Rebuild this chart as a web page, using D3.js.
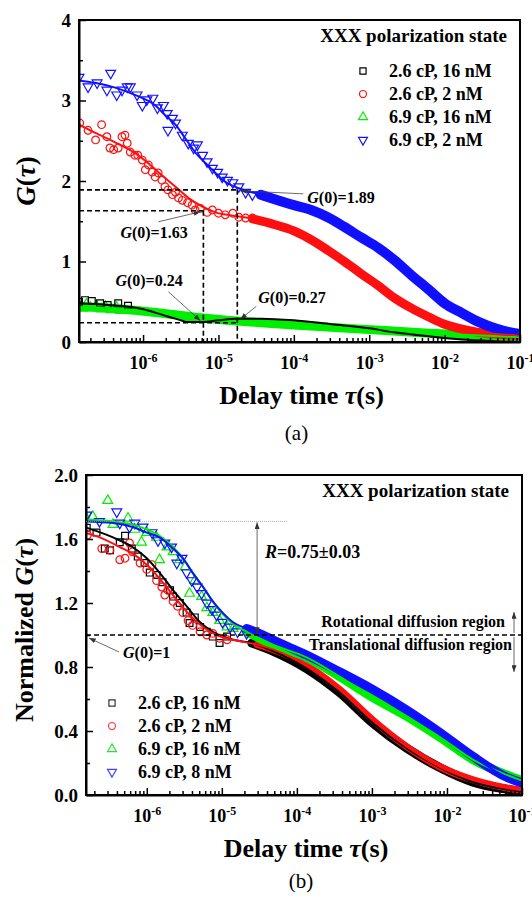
<!DOCTYPE html>
<html>
<head>
<meta charset="utf-8">
<script src="https://cdn.jsdelivr.net/npm/d3@7"></script>
<style>
body { margin: 0; background: #fff; }
svg { display: block; font-family: "Liberation Serif", "Times New Roman", serif; font-weight: bold; }
</style>
</head>
<body>
<div id="chart"></div>
<script>
// all curves: [log10(tau / s), G]
// ---------- panel (a)
var aBlackFit = [[-6.85,0.48],[-6.47,0.46],[-6.01,0.41],[-5.75,0.34],[-5.57,0.29],[-5.40,0.25],[-5.21,0.25],[-5.00,0.27],[-4.77,0.29],[-4.44,0.29],[-4.00,0.27],[-3.50,0.22],[-3.00,0.17],[-2.67,0.12],[-2.21,0.07],[-1.77,0.03],[-1.33,0.01],[-1.00,0.00]];
var aBlackPts = [[-6.85,0.50],[-6.77,0.52],[-6.68,0.51],[-6.57,0.48],[-6.47,0.46],[-6.33,0.48],[-6.20,0.45]];
var aRedFit = [[-6.85,2.70],[-6.64,2.60],[-6.37,2.48],[-6.11,2.35],[-5.93,2.22],[-5.75,2.07],[-5.57,1.93],[-5.40,1.79],[-5.21,1.68],[-5.04,1.61],[-4.81,1.57],[-4.55,1.53],[-4.30,1.47],[-4.00,1.38],[-3.77,1.27],[-3.55,1.14],[-3.33,1.00],[-3.11,0.85],[-2.88,0.70],[-2.67,0.55],[-2.44,0.42],[-2.21,0.31],[-2.00,0.22],[-1.77,0.16],[-1.55,0.12],[-1.33,0.10],[-1.00,0.08]];
var aRedPts = [[-6.84,2.72],[-6.73,2.63],[-6.63,2.51],[-6.55,2.70],[-6.48,2.55],[-6.44,2.41],[-6.39,2.39],[-6.33,2.41],[-6.28,2.55],[-6.24,2.57],[-6.21,2.47],[-6.17,2.36],[-6.11,2.32],[-6.07,2.32],[-6.01,2.26],[-5.97,2.14],[-5.93,2.20],[-5.88,2.11],[-5.84,2.05],[-5.80,2.10],[-5.75,2.01],[-5.71,1.93],[-5.67,1.89],[-5.61,1.83],[-5.57,1.86],[-5.53,1.79],[-5.48,1.76],[-5.41,1.73],[-5.35,1.70],[-5.31,1.64],[-5.24,1.66],[-5.15,1.61],[-5.08,1.64],[-5.00,1.60],[-4.91,1.58],[-4.81,1.60],[-4.73,1.55],[-4.64,1.54],[-4.55,1.54]];
var aGreenFit = [[-6.85,0.44],[-6.31,0.41],[-5.77,0.36],[-5.24,0.30],[-4.75,0.26],[-4.44,0.24],[-4.00,0.21],[-3.11,0.16],[-2.21,0.11],[-1.00,0.06]];
var aGreenPts = [[-6.85,0.46],[-6.80,0.42],[-6.75,0.47],[-6.70,0.43],[-6.62,0.45],[-6.55,0.41],[-6.50,0.44],[-6.42,0.40],[-6.35,0.43],[-6.30,0.39]];
var aBlueFit = [[-6.85,3.25],[-6.64,3.22],[-6.37,3.16],[-6.11,3.07],[-5.84,2.94],[-5.71,2.82],[-5.57,2.70],[-5.44,2.53],[-5.31,2.36],[-5.17,2.22],[-5.04,2.10],[-4.91,1.99],[-4.73,1.91],[-4.44,1.83],[-4.00,1.70],[-3.77,1.64],[-3.55,1.55],[-3.33,1.43],[-3.11,1.30],[-2.88,1.17],[-2.67,1.02],[-2.44,0.83],[-2.21,0.65],[-2.00,0.48],[-1.77,0.36],[-1.55,0.25],[-1.33,0.17],[-1.07,0.11],[-1.00,0.10]];
var aBluePts = [[-6.85,3.29],[-6.73,3.17],[-6.61,3.22],[-6.48,3.13],[-6.43,3.34],[-6.35,3.07],[-6.28,3.13],[-6.21,3.17],[-6.17,3.17],[-6.08,3.07],[-6.01,2.94],[-5.95,3.01],[-5.87,3.03],[-5.81,2.91],[-5.73,2.94],[-5.68,2.84],[-5.67,2.63],[-5.61,2.78],[-5.57,2.72],[-5.48,2.57],[-5.40,2.47],[-5.33,2.41],[-5.28,2.45],[-5.21,2.32],[-5.15,2.24],[-5.08,2.16],[-5.01,2.11],[-4.95,2.05],[-4.88,2.01],[-4.81,1.98],[-4.73,1.93],[-4.64,1.86],[-4.55,1.83]];
var aG0 = [1.63, 1.89, 0.24, 0.27];         // marked G(0) values
var aG0Tau = [-5.2, -4.75];                   // log10 tau of the two dashed verticals

// ---------- panel (b)
var bBlackFit = [[-6.83,1.675],[-6.45,1.61],[-6.19,1.55],[-6.00,1.48],[-5.83,1.39],[-5.65,1.28],[-5.47,1.18],[-5.29,1.08],[-5.12,1.02],[-4.85,0.97],[-4.60,0.95],[-4.32,0.90],[-3.87,0.79],[-3.43,0.64],[-2.99,0.45],[-2.53,0.29],[-2.09,0.17],[-1.65,0.08],[-1.20,0.035],[-1.00,0.02]];
var bBlackPts = [[-6.80,1.67],[-6.67,1.64],[-6.56,1.54],[-6.49,1.53],[-6.36,1.58],[-6.29,1.62],[-6.20,1.54],[-6.12,1.49],[-6.03,1.45],[-5.96,1.39],[-5.87,1.375],[-5.79,1.33],[-5.69,1.28],[-5.65,1.24],[-5.56,1.20],[-5.47,1.14],[-5.43,1.075],[-5.36,1.11],[-5.29,1.05],[-5.20,1.02],[-5.12,0.99],[-5.03,0.95],[-4.93,0.99]];
var bRedFit = [[-6.83,1.64],[-6.63,1.61],[-6.36,1.55],[-6.13,1.49],[-5.96,1.42],[-5.79,1.33],[-5.60,1.22],[-5.43,1.125],[-5.25,1.05],[-5.07,1.00],[-4.85,0.97],[-4.53,0.94],[-4.32,0.91],[-3.87,0.81],[-3.43,0.66],[-2.99,0.47],[-2.53,0.30],[-2.09,0.175],[-1.65,0.094],[-1.20,0.044],[-1.00,0.03]];
var bRedPts = [[-6.79,1.625],[-6.60,1.54],[-6.49,1.53],[-6.36,1.47],[-6.29,1.48],[-6.23,1.575],[-6.19,1.52],[-6.09,1.45],[-6.00,1.41],[-5.93,1.44],[-5.87,1.34],[-5.80,1.30],[-5.76,1.25],[-5.72,1.28],[-5.65,1.21],[-5.59,1.18],[-5.52,1.14],[-5.45,1.09],[-5.39,1.06],[-5.29,1.02],[-5.20,1.00],[-5.12,1.01],[-5.03,0.98],[-4.93,0.97]];
var bGreenFit = [[-6.83,1.72],[-6.45,1.71],[-6.19,1.69],[-6.00,1.66],[-5.83,1.62],[-5.65,1.55],[-5.52,1.48],[-5.39,1.39],[-5.25,1.30],[-5.12,1.21],[-4.99,1.13],[-4.85,1.07],[-4.67,1.02],[-4.32,0.94],[-3.87,0.86],[-3.43,0.74],[-2.99,0.61],[-2.53,0.49],[-2.09,0.36],[-1.65,0.22],[-1.20,0.125],[-1.00,0.09]];
var bGreenPts = [[-6.83,1.75],[-6.72,1.74],[-6.52,1.84],[-6.45,1.69],[-6.25,1.73],[-6.16,1.66],[-6.07,1.58],[-6.00,1.64],[-5.87,1.61],[-5.83,1.47],[-5.73,1.55],[-5.65,1.52],[-5.56,1.47],[-5.49,1.425],[-5.43,1.26],[-5.36,1.34],[-5.27,1.24],[-5.20,1.17],[-5.12,1.14],[-5.03,1.09],[-4.93,1.05],[-4.85,1.04]];
var bBlueFit = [[-6.83,1.71],[-6.45,1.70],[-6.19,1.675],[-6.00,1.64],[-5.83,1.61],[-5.65,1.54],[-5.52,1.48],[-5.39,1.39],[-5.25,1.30],[-5.12,1.21],[-4.99,1.14],[-4.85,1.08],[-4.67,1.04],[-4.45,1.00],[-4.32,0.97],[-3.87,0.875],[-3.43,0.77],[-2.99,0.66],[-2.53,0.53],[-2.09,0.39],[-1.65,0.24],[-1.20,0.11],[-1.00,0.075]];
var bBluePts = [[-6.80,1.75],[-6.63,1.71],[-6.40,1.77],[-6.36,1.70],[-6.23,1.675],[-6.16,1.70],[-6.05,1.675],[-5.93,1.64],[-5.85,1.59],[-5.76,1.575],[-5.67,1.55],[-5.60,1.45],[-5.53,1.48],[-5.47,1.39],[-5.40,1.34],[-5.33,1.30],[-5.27,1.26],[-5.20,1.20],[-5.13,1.16],[-5.07,1.125],[-4.99,1.08],[-4.89,1.05],[-4.79,1.02],[-4.67,1.01]];
var bPlateau = 1.71, bLevel = 1.0, bArrowTau = -4.53, bPlateauEnd = -4.13;

var legendA = ["2.6 cP, 16 nM", "2.6 cP, 2 nM", "6.9 cP, 16 nM", "6.9 cP, 2 nM"];
var legendB = ["2.6 cP, 16 nM", "2.6 cP, 2 nM", "6.9 cP, 16 nM", "6.9 cP, 8 nM"];
var colors = ["#000000", "#ff1010", "#00ee00", "#1010ff"];
var legendColors = ["#333333", "#ff4040", "#30dd30", "#4040ff"];
var xTickExp = [-6, -5, -4, -3, -2, -1];
var aYTicks = [0, 1, 2, 3, 4], aYMinor = [0.5, 1.5, 2.5, 3.5];
var bYTicks = [0, 0.4, 0.8, 1.2, 1.6, 2.0], bYMinor = [0.2, 0.6, 1.0, 1.4, 1.8];

var svg = d3.select("#chart").append("svg").attr("width", 532).attr("height", 900);
var defs = svg.append("defs");
defs.append("marker").attr("id", "arr").attr("viewBox", "0 0 8 6")
  .attr("refX", 8).attr("refY", 3).attr("markerWidth", 7).attr("markerHeight", 5)
  .attr("markerUnits", "userSpaceOnUse").attr("orient", "auto-start-reverse")
  .append("path").attr("d", "M0,0L8,3L0,6z").attr("fill", "#333");

function symbolPath(i, size) {
  var types = [d3.symbolSquare, d3.symbolCircle, d3.symbolTriangle, d3.symbolTriangle];
  return d3.symbol().type(types[i]).size(size)();
}

function addText(sel, x, y, parts, size, anchor) {
  var t = sel.append("text").attr("x", x).attr("y", y).attr("font-size", size)
    .attr("text-anchor", anchor || "start");
  parts.forEach(function (p) {
    t.append("tspan").attr("font-style", p[1] ? "italic" : "normal").text(p[0]);
  });
  return t;
}

function drawPanel(p) {
  var x = d3.scaleLog().domain(p.xDomain).range([p.left, p.right]);
  var y = d3.scaleLinear().domain(p.yDomain).range([p.bottom, p.top]);
  var g = svg.append("g");

  defs.append("clipPath").attr("id", "clip" + p.id).append("rect")
    .attr("x", p.left).attr("y", p.top).attr("width", p.right - p.left).attr("height", p.bottom - p.top);
  var plot = g.append("g").attr("clip-path", "url(#clip" + p.id + ")");

  var line = d3.line().x(function (d) { return x(Math.pow(10, d[0])); })
    .y(function (d) { return y(d[1]); }).curve(d3.curveMonotoneX);

  // bands + markers, then fit lines
  p.order.forEach(function (i) {
    var s = p.series[i];
    if (s.bandFrom != null) {
      plot.append("path").datum(s.fit.filter(function (d) { return d[0] >= s.bandFrom; }))
        .attr("d", line).attr("fill", "none").attr("stroke", colors[i])
        .attr("stroke-width", s.bandWidth).attr("stroke-linecap", "round");
    }
    plot.selectAll(null).data(s.pts).enter().append("path")
      .attr("d", symbolPath(i, i >= 2 ? 42 : 46))
      .attr("transform", function (d) {
        return "translate(" + x(Math.pow(10, d[0])) + "," + y(d[1]) + ")" + (i === 3 ? " rotate(180)" : "");
      })
      .attr("fill", "none").attr("stroke", colors[i]).attr("stroke-width", 1.2);
  });
  p.order.forEach(function (i) {
    plot.append("path").datum(p.series[i].fit).attr("d", line)
      .attr("fill", "none").attr("stroke", colors[i]).attr("stroke-width", 2);
  });

  // axes, ticks inward
  var minors = [];
  for (var e = -7; e <= -2; e++) for (var k = 2; k <= 9; k++) {
    var v = k * Math.pow(10, e);
    if (v > p.xDomain[0] && v < p.xDomain[1]) minors.push(v);
  }
  var xg = g.append("g").attr("transform", "translate(0," + p.bottom + ")")
    .call(d3.axisBottom(x).tickValues(xTickExp.map(function (e) { return Math.pow(10, e); }))
      .tickSizeInner(-7).tickSizeOuter(0).tickPadding(14));
  g.append("g").attr("transform", "translate(0," + p.bottom + ")")
    .call(d3.axisBottom(x).tickValues(minors).tickSizeInner(-4).tickSizeOuter(0).tickFormat(""))
    .select(".domain").remove();
  xg.selectAll(".tick text").each(function (d) {
    var t = d3.select(this).text("");
    t.append("tspan").text("10");
    t.append("tspan").attr("dy", "-0.6em").attr("font-size", "12px").text(Math.round(Math.log10(d)));
  });

  var yg = g.append("g").attr("transform", "translate(" + p.left + ",0)")
    .call(d3.axisLeft(y).tickValues(p.yTicks).tickSizeInner(-7).tickSizeOuter(0)
      .tickPadding(8).tickFormat(d3.format(p.yFormat)));
  g.append("g").attr("transform", "translate(" + p.left + ",0)")
    .call(d3.axisLeft(y).tickValues(p.yMinor).tickSizeInner(-4).tickSizeOuter(0).tickFormat(""))
    .select(".domain").remove();

  g.selectAll(".tick line").attr("stroke", "#000").attr("stroke-width", 1.5);
  g.selectAll(".domain").attr("stroke", "#000").attr("stroke-width", 2);
  xg.attr("font-family", null).attr("font-size", 18);
  yg.attr("font-family", null).attr("font-size", p.yFont);
  g.selectAll(".tick text").attr("fill", "#000");

  g.append("rect").attr("x", p.left).attr("y", p.top)
    .attr("width", p.right - p.left).attr("height", p.bottom - p.top)
    .attr("fill", "none").attr("stroke", "#000").attr("stroke-width", 2);

  // axis titles
  addText(g, (p.left + p.right) / 2 + 2, p.bottom + p.titleDy, [["Delay time ", false], ["τ", true], ["(s)", false]], 26, "middle");
  addText(g, 0, 0, p.yTitle, p.yTitleSize, "middle")
    .attr("transform", "translate(" + (p.left - p.yTitleDx) + "," + p.yTitleY + ") rotate(-90)");
  addText(g, (p.left + p.right) / 2 - 3, p.bottom + p.tagDy, [[p.tag, false]], 21, "middle").attr("font-weight", "normal");

  // legend
  addText(g, p.right - 13, p.top + 22, [["XXX polarization state", false]], 19, "end");
  p.legend.forEach(function (name, i) {
    var cy = p.legY + i * 23;
    g.append("path").attr("d", symbolPath(i, i >= 2 ? 34 : 38))
      .attr("transform", "translate(" + p.legX + "," + cy + ")" + (i === 3 ? " rotate(180)" : ""))
      .attr("fill", "none").attr("stroke", p.legendColors[i]).attr("stroke-width", 1.2);
    addText(g, p.legX + 26, cy + 6, [[name, false]], 18, "start");
  });
  return { x: x, y: y, g: g };
}

// ---------- panel (a)
var A = drawPanel({
  id: "a", left: 79, right: 520, top: 20, bottom: 342,
  xDomain: [Math.pow(10, -6.85), 0.1], yDomain: [0, 4],
  yTicks: aYTicks, yMinor: aYMinor, yFormat: "d", yFont: 19,
  yTitle: [["G", true], ["(", false], ["τ", true], [")", false]], yTitleSize: 27, yTitleDx: 44, yTitleY: 181,
  tag: "(a)", titleDy: 62, tagDy: 98,
  legend: legendA, legendColors: colors, legX: 363, legY: 71,
  order: [2, 0, 1, 3],
  series: [
    { fit: aBlackFit, pts: aBlackPts, bandFrom: null },
    { fit: aRedFit, pts: aRedPts, bandFrom: -4.8, bandWidth: 9 },
    { fit: aGreenFit, pts: aGreenPts, bandFrom: -6.85, bandWidth: 9 },
    { fit: aBlueFit, pts: aBluePts, bandFrom: -4.6, bandWidth: 10 }
  ]
});

(function () {
  var x = A.x, y = A.y, g = A.g, x0 = 79;
  var t1 = x(Math.pow(10, aG0Tau[0])), t2 = x(Math.pow(10, aG0Tau[1]));
  var dash = function (x1, y1, x2, y2) {
    g.append("line").attr("x1", x1).attr("y1", y1).attr("x2", x2).attr("y2", y2)
      .attr("stroke", "#000").attr("stroke-width", 1.6).attr("stroke-dasharray", "5,3");
  };
  dash(x0, y(aG0[1]), t2, y(aG0[1]));
  dash(x0, y(aG0[0]), t1, y(aG0[0]));
  dash(x0, y(aG0[2]), t2, y(aG0[2]));
  dash(t1, y(aG0[0]), t1, y(0));
  dash(t2, y(aG0[1]), t2, y(0));
  var arrow = function (x1, y1, x2, y2) {
    g.append("line").attr("x1", x1).attr("y1", y1).attr("x2", x2).attr("y2", y2)
      .attr("stroke", "#444").attr("stroke-width", 0.8).attr("marker-end", "url(#arr)");
  };
  var lab = function (xx, yy, v) { addText(g, xx, yy, [["G", true], ["(0)=" + v, false]], 16, "start"); };
  lab(t1 - 83, y(aG0[0]) + 27, aG0[0]);
  arrow(t1 - 45, y(aG0[0]) + 11, t1 - 3, y(aG0[0]) + 1);
  lab(t2 + 70, y(aG0[1]) + 13, aG0[1]);
  arrow(t2 + 66, y(aG0[1]) + 4, t2 + 3, y(aG0[1]) + 1);
  lab(t1 - 88, y(aG0[2]) - 37, aG0[2]);
  arrow(t1 - 35, y(aG0[2]) - 31, t1 - 3, y(aG0[2]) - 2);
  lab(t2 + 21, y(aG0[3]) - 17, aG0[3]);
  arrow(t2 + 19, y(aG0[3]) - 14, t2 + 3, y(aG0[3]) - 1);
})();

// ---------- panel (b)
var B = drawPanel({
  id: "b", left: 86, right: 522, top: 475, bottom: 795,
  xDomain: [Math.pow(10, -6.81), 0.1], yDomain: [0, 2],
  yTicks: bYTicks, yMinor: bYMinor, yFormat: ".1f", yFont: 19,
  yTitle: [["Normalized ", false], ["G", true], ["(", false], ["τ", true], [")", false]], yTitleSize: 26, yTitleDx: 53, yTitleY: 630,
  tag: "(b)", titleDy: 62, tagDy: 93,
  legend: legendB, legendColors: legendColors, legX: 112, legY: 703,
  order: [0, 1, 2, 3],
  series: [
    { fit: bBlackFit, pts: bBlackPts, bandFrom: -4.75, bandWidth: 9 },
    { fit: bRedFit, pts: bRedPts, bandFrom: -4.75, bandWidth: 7 },
    { fit: bGreenFit, pts: bGreenPts, bandFrom: -4.75, bandWidth: 9 },
    { fit: bBlueFit, pts: bBluePts, bandFrom: -4.75, bandWidth: 9 }
  ]
});

(function () {
  var x = B.x, y = B.y, g = B.g, x0 = 86, x1 = 522;
  g.append("line").attr("x1", x0).attr("x2", x(Math.pow(10, bPlateauEnd)))
    .attr("y1", y(bPlateau)).attr("y2", y(bPlateau))
    .attr("stroke", "#999").attr("stroke-width", 0.8).attr("stroke-dasharray", "1,1");
  g.append("line").attr("x1", x0).attr("x2", x1).attr("y1", y(bLevel)).attr("y2", y(bLevel))
    .attr("stroke", "#000").attr("stroke-width", 1.6).attr("stroke-dasharray", "5,3");
  var ax = x(Math.pow(10, bArrowTau));
  g.append("line").attr("x1", ax).attr("x2", ax).attr("y1", y(bPlateau) + 1).attr("y2", y(bLevel) - 1)
    .attr("stroke", "#444").attr("stroke-width", 0.8)
    .attr("marker-start", "url(#arr)").attr("marker-end", "url(#arr)");
  addText(g, ax + 8, y(bPlateau) + 37, [["R", true], ["=0.75±0.03", false]], 18, "start");
  addText(g, x1 - 17, y(bLevel) - 8, [["Rotational diffusion region", false]], 16, "end");
  addText(g, x1 - 10, y(bLevel) + 15, [["Translational diffusion region", false]], 16, "end");
  g.append("line").attr("x1", x1 - 8).attr("x2", x1 - 8).attr("y1", y(bLevel) - 2).attr("y2", y(bLevel) - 23)
    .attr("stroke", "#444").attr("stroke-width", 0.8).attr("marker-end", "url(#arr)");
  g.append("line").attr("x1", x1 - 8).attr("x2", x1 - 8).attr("y1", y(bLevel) + 2).attr("y2", y(bLevel) + 37)
    .attr("stroke", "#444").attr("stroke-width", 0.8).attr("marker-end", "url(#arr)");
  addText(g, x0 + 37, y(bLevel) + 23, [["G", true], ["(0)=1", false]], 16, "start");
  g.append("line").attr("x1", x0 + 33).attr("y1", y(bLevel) + 17).attr("x2", x0 + 3).attr("y2", y(bLevel) + 3)
    .attr("stroke", "#444").attr("stroke-width", 0.8).attr("marker-end", "url(#arr)");
})();
</script>
</body>
</html>
